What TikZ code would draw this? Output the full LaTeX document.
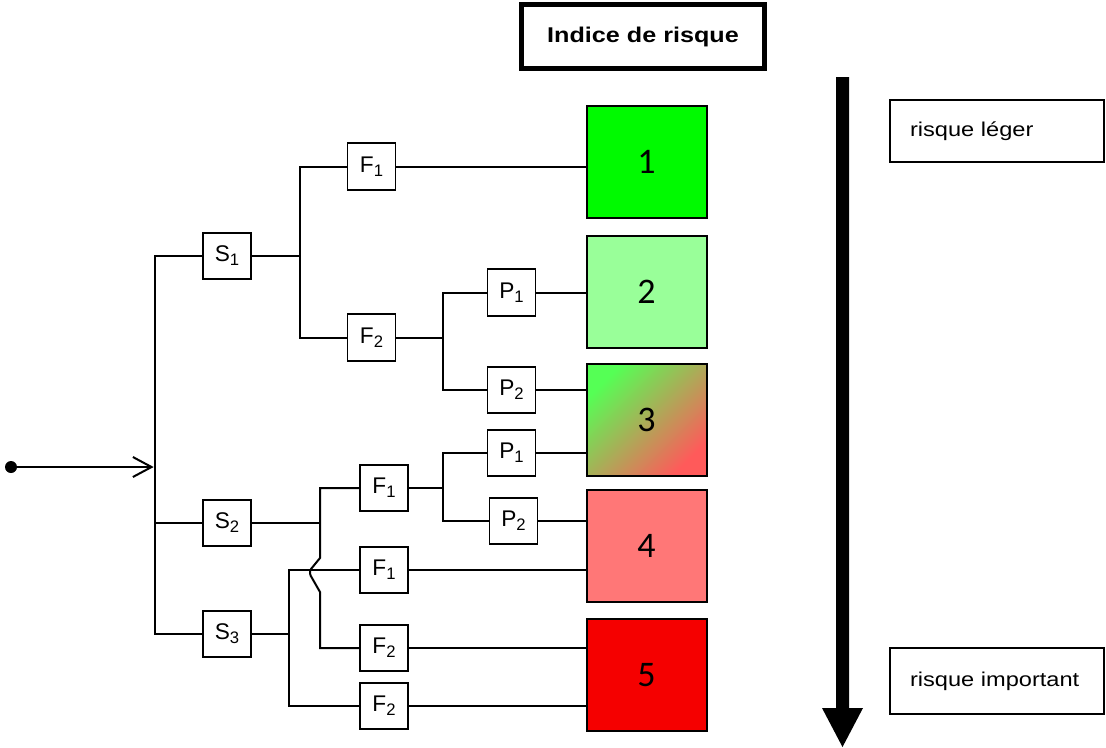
\documentclass[tikz,border=0pt]{standalone}
\usepackage{fontspec}
\setmainfont{Liberation Sans}[FakeStretch=1.18]
\newfontfamily\labfont{Liberation Sans}
\newfontfamily\numfont{Carlito}
\usetikzlibrary{arrows.meta}
\definecolor{rOne}{RGB}{0,250,0}
\definecolor{rTwo}{RGB}{153,255,153}
\definecolor{rThreeA}{RGB}{85,255,85}
\definecolor{rThreeB}{RGB}{255,90,90}
\definecolor{rFour}{RGB}{255,119,119}
\definecolor{rFive}{RGB}{245,0,0}
\newcommand\lab[2]{#1\raisebox{-3pt}{\fontsize{12.5pt}{14pt}\selectfont #2}}
\tikzset{
  conn/.style={line width=1.5pt, line cap=rect},
  sbox/.style={draw, line width=1.4pt, minimum width=36pt, minimum height=35pt, inner sep=0pt, font=\labfont\fontsize{17pt}{20pt}\selectfont},
  riskbox/.style={draw, line width=1.5pt, minimum width=90pt, minimum height=84pt, inner sep=0pt, font=\numfont\fontsize{27pt}{30pt}\selectfont},
  legendbox/.style={draw, line width=1.4pt, minimum width=160.5pt, minimum height=46pt, inner xsep=15pt, text width=130.5pt, align=left, font=\fontsize{15pt}{18pt}\selectfont},
}
\begin{document}
\begin{tikzpicture}[x=0.75pt,y=-0.75pt]
\useasboundingbox (0,0) rectangle (1106,747);
% title
\node[draw, line width=3.75pt, minimum width=182.5pt, minimum height=48.5pt, font=\bfseries\fontsize{16pt}{19pt}\selectfont] (title) at (643,36.5) {Indice de risque};
% legends
\node[legendbox] (leg1) at (997,131) {risque léger};
\node[legendbox, minimum height=49pt] (leg2) at (997,681) {risque important};
% big arrow
\fill (836,77) -- (849,77) -- (849,708) -- (863,708) -- (842.5,747) -- (822,708) -- (836,708) -- cycle;
% risk boxes
\node[riskbox, fill=rOne] (R1) at (646.5,162) {1};
\node[riskbox, fill=rTwo] (R2) at (646.5,291.5) {2};
\node[riskbox, top color=rThreeA, bottom color=rThreeB, shading angle=45] (R3) at (646.5,420) {3};
\node[riskbox, fill=rFour] (R4) at (646.5,546) {4};
\node[riskbox, fill=rFive] (R5) at (646.5,675) {5};
% small boxes
\node[sbox] (S1) at (227,256) {\lab{S}{1}};
\node[sbox] (S2) at (227,523) {\lab{S}{2}};
\node[sbox] (S3) at (227,634) {\lab{S}{3}};
\node[sbox] (F1a) at (371.5,166.5) {\lab{F}{1}};
\node[sbox] (F2a) at (371.5,337.5) {\lab{F}{2}};
\node[sbox] (P1a) at (511.5,292.5) {\lab{P}{1}};
\node[sbox] (P2a) at (511.5,390) {\lab{P}{2}};
\node[sbox] (P1b) at (511.5,453) {\lab{P}{1}};
\node[sbox] (P2b) at (513.5,521) {\lab{P}{2}};
\node[sbox] (F1b) at (384,488) {\lab{F}{1}};
\node[sbox] (F1c) at (384,570) {\lab{F}{1}};
\node[sbox] (F2b) at (384,648) {\lab{F}{2}};
\node[sbox] (F2c) at (384,706) {\lab{F}{2}};
% start
\node[circle, fill, inner sep=0pt, minimum size=9pt] (start) at (11,467) {};
\coordinate (M) at (155,0);
\draw[line width=1.5pt, -{Straight Barb[length=14pt,width=15pt,line width=1.5pt]}] (start.center) -- ([xshift=-1pt]M |- start);
% main vertical
\draw[conn] (M |- S1) -- (M |- S3);
\draw[conn] (M |- S1) -- (S1.west);
\draw[conn] (M |- S2) -- (S2.west);
\draw[conn] (M |- S3) -- (S3.west);
% S1 branch
\coordinate (J1) at (300,0);
\draw[conn] (S1.east) -- (J1 |- S1);
\draw[conn] (F1a.west) -- (J1 |- F1a) -- (J1 |- F2a) -- (F2a.west);
\draw[conn] (F1a.east) -- (F1a.east -| R1.west);
\coordinate (J2) at (443,0);
\draw[conn] (F2a.east) -- (J2 |- F2a);
\draw[conn] (P1a.west) -- (J2 |- P1a) -- (J2 |- P2a) -- (P2a.west);
\draw[conn] (P1a.east) -- (P1a.east -| R2.west);
\draw[conn] (P2a.east) -- (P2a.east -| R3.west);
% S2 branch
\coordinate (J3) at (320,0);
\draw[conn] (S2.east) -- (J3 |- S2);
\draw[conn] (F1b.west) -- (J3 |- F1b) -- (320,558) -- (311,569) .. controls (309,572) and (310,575) .. (312,578) -- (320,592) -- (J3 |- F2b) -- (F2b.west);
\coordinate (J4) at (443,0);
\draw[conn] (F1b.east) -- (J4 |- F1b);
\draw[conn] (P1b.west) -- (J4 |- P1b) -- (J4 |- P2b) -- (P2b.west);
\draw[conn] (P1b.east) -- (P1b.east -| R3.west);
\draw[conn] (P2b.east) -- (P2b.east -| R4.west);
\draw[conn] (F2b.east) -- (F2b.east -| R5.west);
% S3 branch
\coordinate (J5) at (289,0);
\draw[conn] (S3.east) -- (J5 |- S3);
\draw[conn] (F1c.west) -- (J5 |- F1c) -- (J5 |- F2c) -- (F2c.west);
\draw[conn] (F1c.east) -- (F1c.east -| R4.west);
\draw[conn] (F2c.east) -- (F2c.east -| R5.west);
\end{tikzpicture}
\end{document}
